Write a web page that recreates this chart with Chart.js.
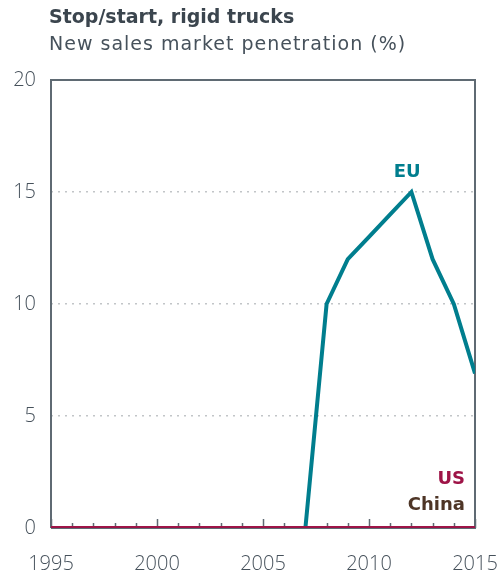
<!DOCTYPE html>
<html>
<head>
<meta charset="utf-8">
<script src="https://cdn.jsdelivr.net/npm/chart.js@4"></script>
<style>
  html, body { margin: 0; padding: 0; background: #fff; }
  #wrap { width: 501px; height: 573px; position: relative; }
</style>
</head>
<body>
<div id="wrap"><canvas id="chart"></canvas></div>
<script>
// data
const years = [1995, 1996, 1997, 1998, 1999, 2000, 2001, 2002, 2003, 2004, 2005,
               2006, 2007, 2008, 2009, 2010, 2011, 2012, 2013, 2014, 2015];
const euValues =    [0, 0, 0, 0, 0, 0, 0, 0, 0, 0, 0, 0, 0, 10, 12, 13, 14, 15, 12, 10, 6.9];
const usValues =    [0, 0, 0, 0, 0, 0, 0, 0, 0, 0, 0, 0, 0, 0, 0, 0, 0, 0, 0, 0, 0];
const chinaValues = [0, 0, 0, 0, 0, 0, 0, 0, 0, 0, 0, 0, 0, 0, 0, 0, 0, 0, 0, 0, 0];
const yTicks = [0, 5, 10, 15, 20];
const xTicks = [1995, 2000, 2005, 2010, 2015];

const FONT = '"DejaVu Sans", sans-serif';
const TICK_FONT = '"Open Sans", sans-serif';
const textColor = '#46515b';
const frameColor = '#5f6a73';

const toPoints = vals => years.map((yr, i) => ({ x: yr, y: vals[i] }));

// frame, inner ticks, title and series labels
const decor = {
    id: 'decor',
    beforeDatasetsDraw(chart) {
        const { ctx, chartArea: a, scales: { x } } = chart;
        ctx.save();
        ctx.strokeStyle = frameColor;
        ctx.lineWidth = 2;
        ctx.beginPath();
        ctx.moveTo(a.left, a.bottom);
        ctx.lineTo(a.left, a.top);
        ctx.lineTo(a.right, a.top);
        ctx.lineTo(a.right, a.bottom);
        ctx.lineTo(a.left, a.bottom);
        ctx.stroke();
        // year ticks pointing into the plot
        ctx.lineWidth = 1.5;
        years.forEach(yr => {
            const px = Math.round(x.getPixelForValue(yr)) + 0.5;
            const len = yr % 5 === 0 ? 9 : 5;
            ctx.beginPath();
            ctx.moveTo(px, a.bottom);
            ctx.lineTo(px, a.bottom - len);
            ctx.stroke();
        });
        ctx.restore();
    },
    afterDraw(chart) {
        const { ctx, scales: { x, y } } = chart;
        ctx.save();
        ctx.textBaseline = 'middle';
        ctx.fillStyle = '#3b454e';
        ctx.font = 'bold 19px ' + FONT;
        ctx.fillText('Stop/start, rigid trucks', 49, 18);
        ctx.fillStyle = textColor;
        ctx.font = '19px ' + FONT;
        ctx.letterSpacing = '1px';
        ctx.fillText('New sales market penetration (%)', 49, 45);
        ctx.letterSpacing = '0px';

        ctx.font = 'bold 18px ' + FONT;
        ctx.textAlign = 'center';
        ctx.fillStyle = '#007e8e';
        ctx.fillText('EU', x.getPixelForValue(2011.8), y.getPixelForValue(15) - 20);
        ctx.textAlign = 'right';
        ctx.fillStyle = '#9e1447';
        ctx.fillText('US', x.getPixelForValue(2015) - 10, y.getPixelForValue(0) - 49);
        ctx.fillStyle = '#4e3526';
        ctx.fillText('China', x.getPixelForValue(2015) - 10, y.getPixelForValue(0) - 23);
        ctx.restore();
    }
};

new Chart(document.getElementById('chart'), {
    type: 'line',
    data: {
        datasets: [
            { label: 'EU', data: toPoints(euValues), borderColor: '#007e8e', order: 2 },
            { label: 'US', data: toPoints(usValues), borderColor: '#9e1447', order: 0 },
            { label: 'China', data: toPoints(chinaValues), borderColor: '#4e3526', order: 1 }
        ]
    },
    options: {
        responsive: true,
        maintainAspectRatio: false,
        animation: false,
        layout: { padding: { top: 80, right: 26, bottom: 0, left: 0 } },
        elements: {
            line: { borderWidth: 4, tension: 0, borderCapStyle: 'butt', borderJoinStyle: 'miter' },
            point: { radius: 0 }
        },
        scales: {
            x: {
                type: 'linear',
                min: 1995, max: 2015,
                afterFit: s => { s.height = 45; s.paddingLeft = 0; s.paddingRight = 0; },
                afterBuildTicks: s => { s.ticks = xTicks.map(v => ({ value: v })); },
                grid: { display: false, drawTicks: false },
                border: { display: false },
                ticks: {
                    color: textColor, font: { family: TICK_FONT, size: 20, weight: 300 },
                    padding: 24, maxRotation: 0,
                    callback: v => String(v)
                }
            },
            y: {
                min: 0, max: 20,
                afterFit: s => { s.width = 51; s.paddingTop = 0; s.paddingBottom = 0; },
                afterBuildTicks: s => { s.ticks = yTicks.map(v => ({ value: v })); },
                grid: {
                    drawTicks: false,
                    color: ctx => (ctx.tick && (ctx.tick.value === 0 || ctx.tick.value === 20)) ? 'rgba(0,0,0,0)' : '#c2c5c8',
                    lineWidth: 1.5
                },
                border: { display: false, dash: [2, 5] },
                ticks: { color: textColor, font: { family: TICK_FONT, size: 20, weight: 300 }, padding: 15 }
            }
        },
        plugins: {
            legend: { display: false },
            tooltip: { enabled: false }
        }
    },
    plugins: [decor]
});
</script>
</body>
</html>
